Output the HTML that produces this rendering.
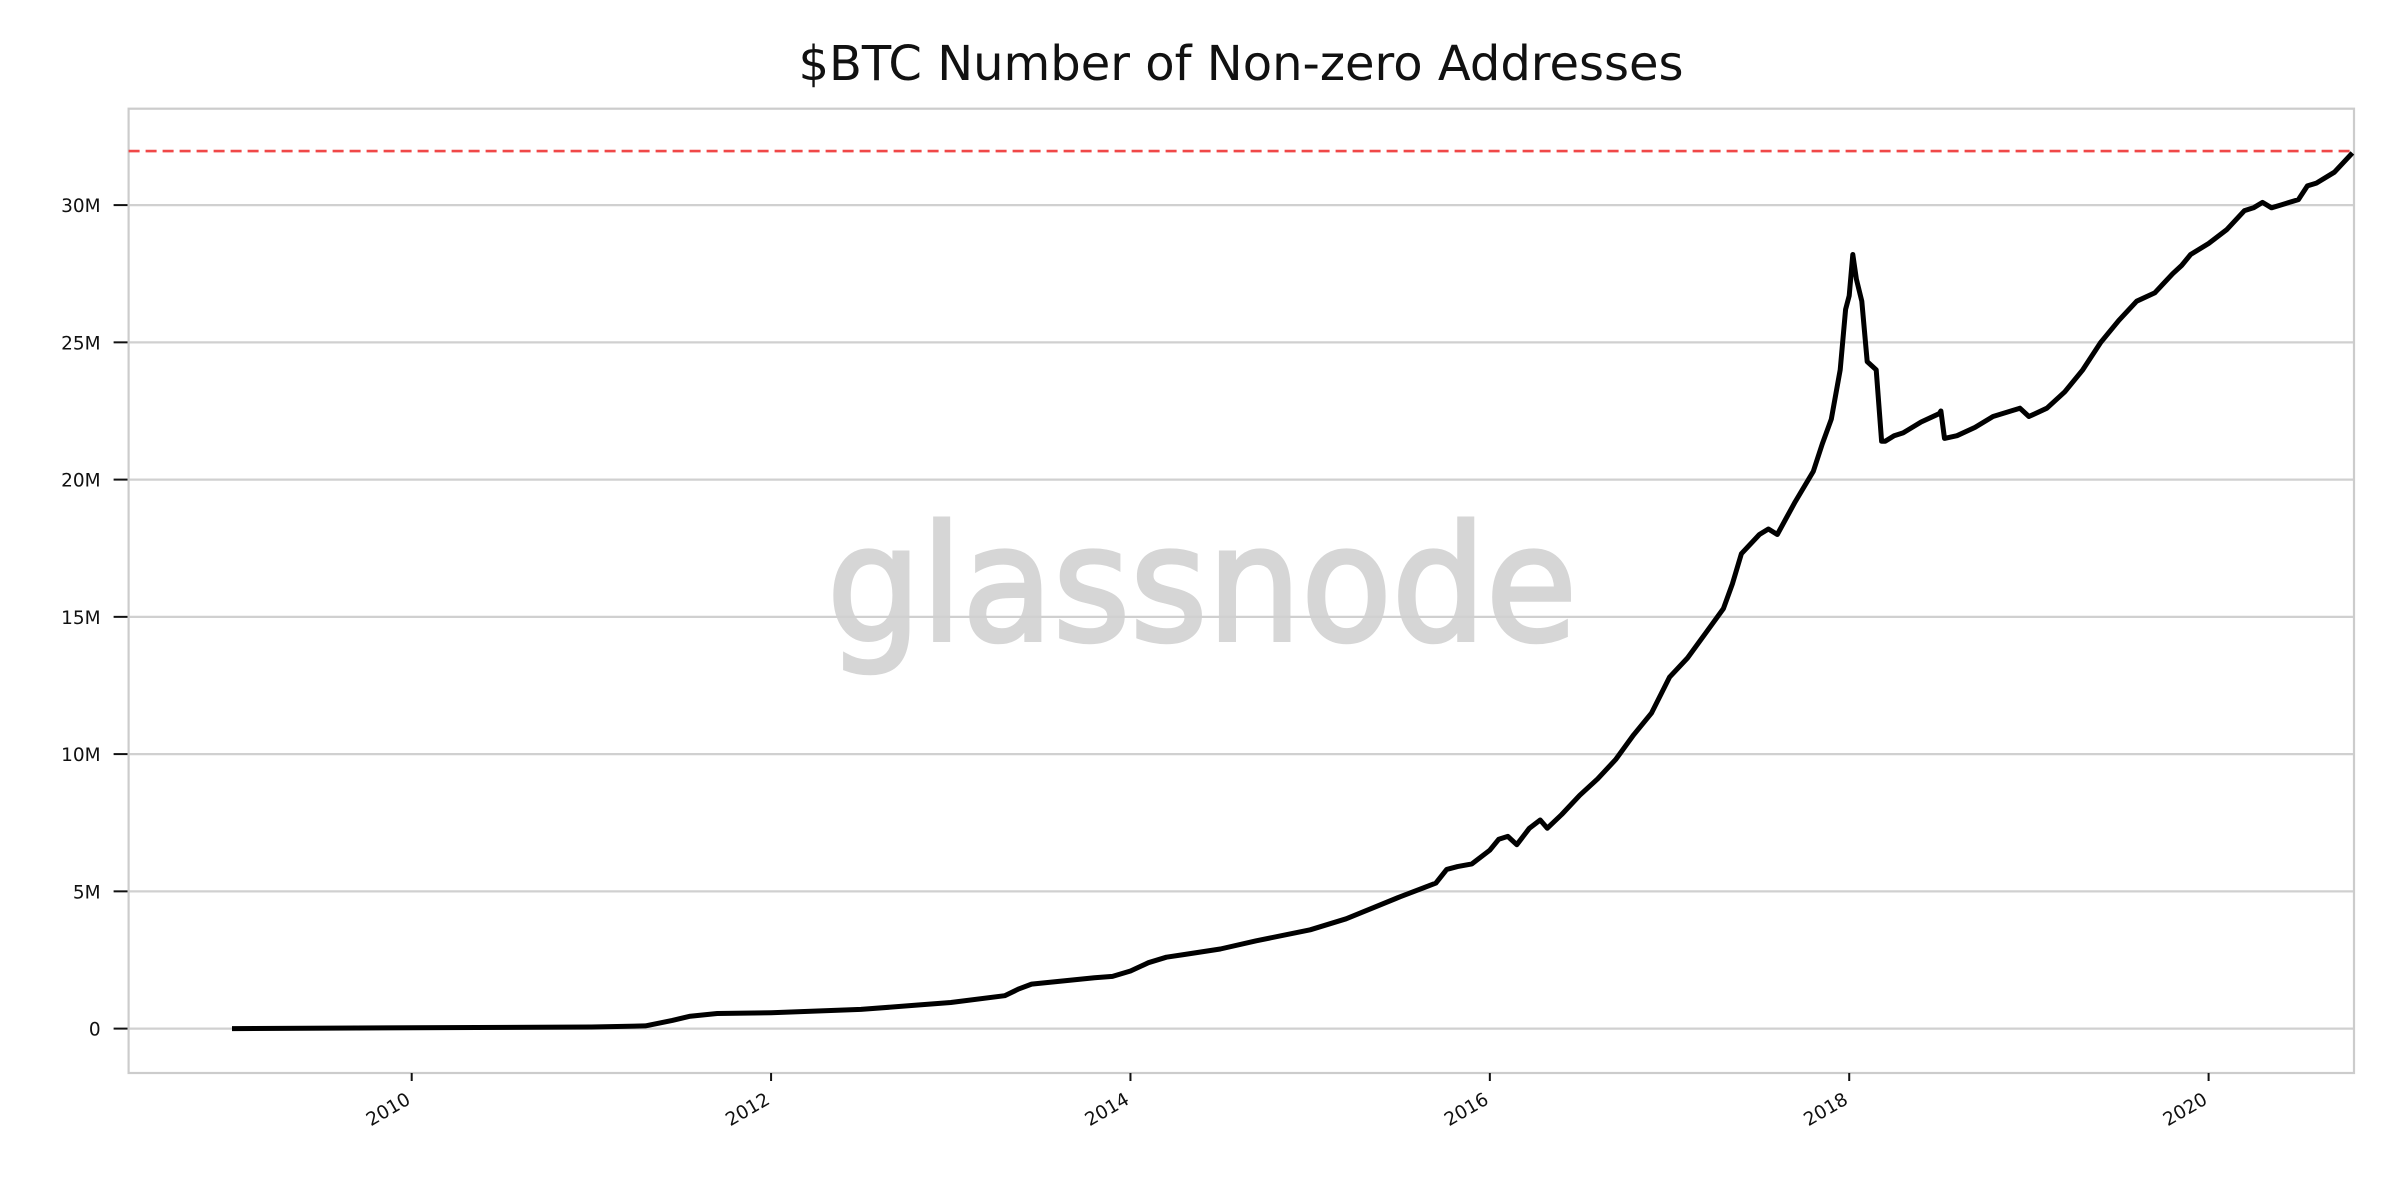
<!DOCTYPE html>
<html><head><meta charset="utf-8"><style>
html,body{margin:0;padding:0;background:#fff;}
svg{display:block;font-family:"DejaVu Sans","Liberation Sans",sans-serif;}
</style></head><body>
<svg id="chart" width="2400" height="1200" viewBox="0 0 2400 1200">
<text x="1241" y="80" text-anchor="middle" font-size="48" fill="#111">$BTC Number of Non-zero Addresses</text>
<text x="1202" y="640" text-anchor="middle" font-size="160" fill="#d6d6d6" stroke="#d6d6d6" stroke-width="4" textLength="750" lengthAdjust="spacingAndGlyphs">glassnode</text>
<g id="grid"></g>
<g id="axes"></g>
<g id="series"></g>
</svg>
<script>
const yTicks = [0, 5, 10, 15, 20, 25, 30];
const yTickLabels = ["0", "5M", "10M", "15M", "20M", "25M", "30M"];
const xTicks = [2010, 2012, 2014, 2016, 2018, 2020];
const xTickLabels = ["2010", "2012", "2014", "2016", "2018", "2020"];
const athValue = 31.97;
const years = [2009.0,2010.0,2011.0,2011.3,2011.45,2011.55,2011.7,2012.0,2012.5,2012.8,2013.0,2013.3,2013.38,2013.45,2013.8,2013.9,2014.0,2014.1,2014.2,2014.3,2014.5,2014.7,2015.0,2015.2,2015.5,2015.7,2015.76,2015.82,2015.9,2016.0,2016.05,2016.1,2016.15,2016.22,2016.28,2016.32,2016.4,2016.5,2016.6,2016.7,2016.8,2016.9,2017.0,2017.1,2017.2,2017.3,2017.35,2017.4,2017.5,2017.55,2017.6,2017.65,2017.7,2017.8,2017.85,2017.9,2017.95,2017.98,2018.0,2018.02,2018.04,2018.07,2018.1,2018.15,2018.18,2018.2,2018.25,2018.3,2018.4,2018.5,2018.51,2018.53,2018.6,2018.7,2018.8,2018.9,2018.95,2019.0,2019.1,2019.2,2019.3,2019.4,2019.5,2019.6,2019.7,2019.8,2019.85,2019.9,2020.0,2020.1,2020.2,2020.25,2020.3,2020.35,2020.4,2020.5,2020.55,2020.6,2020.7,2020.8];
const addresses = [0.0,0.03,0.06,0.1,0.3,0.45,0.55,0.58,0.7,0.85,0.95,1.2,1.45,1.62,1.85,1.9,2.1,2.4,2.6,2.7,2.9,3.2,3.6,4.0,4.8,5.3,5.8,5.9,6.0,6.5,6.9,7.0,6.7,7.3,7.6,7.3,7.8,8.5,9.1,9.8,10.7,11.5,12.8,13.5,14.4,15.3,16.2,17.3,18.0,18.2,18.0,18.6,19.2,20.3,21.3,22.2,24.0,26.2,26.7,28.2,27.3,26.5,24.3,24.0,21.4,21.4,21.6,21.7,22.1,22.4,22.5,21.5,21.6,21.9,22.3,22.5,22.6,22.3,22.6,23.2,24.0,25.0,25.8,26.5,26.8,27.5,27.8,28.2,28.6,29.1,29.8,29.9,30.1,29.9,30.0,30.2,30.7,30.8,31.2,31.9];
const L=128.6,R=2354,T=108.7,B=1073;
function xScale(v){return 411.7+(v-2010)*179.69;}
function yScale(v){return 1028.6-v*27.45;}
const NS="http://www.w3.org/2000/svg";
function mk(tag,attrs,parent){const e=document.createElementNS(NS,tag);for(const k in attrs)e.setAttribute(k,attrs[k]);parent.appendChild(e);return e;}
const grid=document.getElementById('grid'),axes=document.getElementById('axes'),series=document.getElementById('series');
yTicks.forEach((t,i)=>{
  const y=yScale(t);
  const g=mk('line',{x1:L,x2:R,y1:y,y2:y,stroke:'#d0d0d0','stroke-width':2.2},grid);
  
  
  const tk=mk('line',{x1:L-15,x2:L,y1:y,y2:y,stroke:'#111','stroke-width':2},axes);
  
  
  const tx=mk('text',{x:L-28,y:y+7,'text-anchor':'end','font-size':18.5,fill:'#111'},axes);
  tx.textContent=yTickLabels[i];
  
  
});
const frame=mk('rect',{x:L,y:T,width:R-L,height:B-T,fill:'none',stroke:'#cccccc','stroke-width':2.2},axes);


xTicks.forEach((t,i)=>{
  const x=xScale(t);
  const tk=mk('line',{x1:x,x2:x,y1:B,y2:B+8,stroke:'#111','stroke-width':2},axes);
  
  
  const tx=mk('text',{x:x,y:B+30,'text-anchor':'end','font-size':18.5,fill:'#111',transform:`rotate(-30 ${x} ${B+30})`},axes);
  tx.textContent=xTickLabels[i];
  
  
});
const ath=mk('line',{x1:L,x2:R,y1:yScale(athValue),y2:yScale(athValue),stroke:'#f04848','stroke-width':2.6,'stroke-dasharray':'11 6'},series);


const pts=years.map((yr,i)=>xScale(yr).toFixed(1)+','+yScale(addresses[i]).toFixed(1)).join(' ');
const pl=mk('polyline',{points:pts,fill:'none',stroke:'#000','stroke-width':5,'stroke-linejoin':'round'},series);


</script>
</body></html>
